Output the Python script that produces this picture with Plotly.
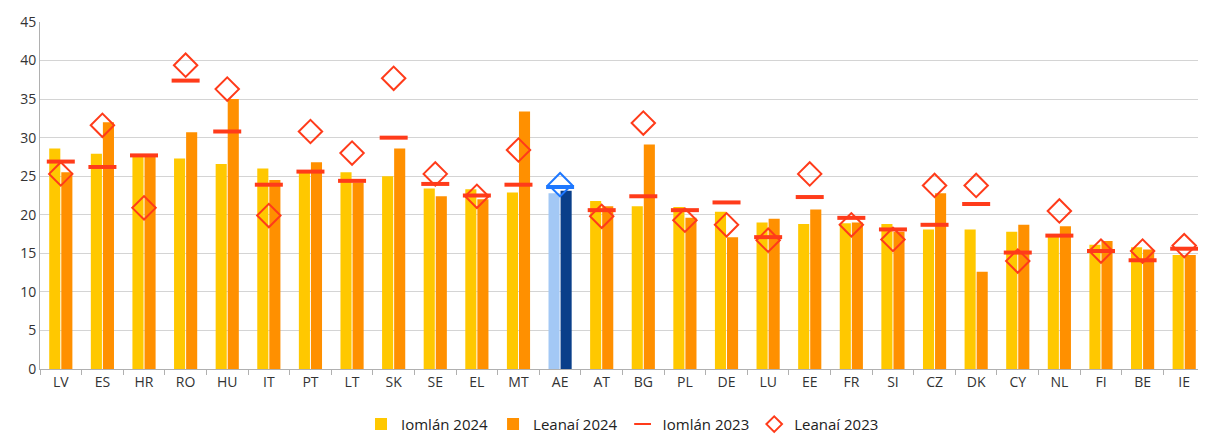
import plotly.graph_objects as go

categories = ["LV", "ES", "HR", "RO", "HU", "IT", "PT", "LT", "SK", "SE", "EL", "MT", "AE", "AT",
              "BG", "PL", "DE", "LU", "EE", "FR", "SI", "CZ", "DK", "CY", "NL", "FI", "BE", "IE"]
iomlan_2024 = [28.6, 27.9, 27.6, 27.3, 26.6, 26.0, 25.6, 25.5, 25.0, 23.4, 23.3, 22.9, 22.8, 21.8,
               21.1, 21.0, 20.4, 19.0, 18.8, 18.9, 18.8, 18.1, 18.1, 17.8, 17.2, 16.1, 15.8, 14.8]
leanai_2024 = [25.5, 32.0, 27.8, 30.7, 35.0, 24.5, 26.8, 24.2, 28.6, 22.4, 22.0, 33.4, 23.1, 21.1,
               29.1, 19.6, 17.1, 19.5, 20.7, 19.0, 17.8, 22.8, 12.6, 18.7, 18.5, 16.6, 15.5, 14.8]
iomlan_2023 = [26.9, 26.2, 27.7, 37.4, 30.8, 23.9, 25.6, 24.4, 30.0, 24.0, 22.5, 23.9, 23.6, 20.6,
               22.4, 20.6, 21.6, 17.1, 22.3, 19.6, 18.1, 18.7, 21.4, 15.1, 17.3, 15.3, 14.1, 15.6]
leanai_2023 = [25.3, 31.6, 20.9, 39.4, 36.3, 19.9, 30.8, 28.0, 37.7, 25.3, 22.4, 28.4, 23.9, 19.8,
               31.9, 19.3, 18.7, 16.7, 25.3, 18.7, 16.8, 23.8, 23.8, 14.0, 20.5, 15.3, 15.3, 16.0]
y_ticks = [0, 5, 10, 15, 20, 25, 30, 35, 40, 45]

YELLOW = "#FFC800"
ORANGE = "#FF9000"
RED = "#FF3B1A"
AE_LIGHT = "#A3C8F5"
AE_DARK = "#0A3F8A"
AE_MARK = "#1E78FF"

def colors(base, ae):
    return [ae if c == "AE" else base for c in categories]

fig = go.Figure()
fig.add_trace(go.Bar(name="Iomlán 2024", x=categories, y=iomlan_2024,
                     marker=dict(color=colors(YELLOW, AE_LIGHT), line=dict(width=0))))
fig.add_trace(go.Bar(name="Leanaí 2024", x=categories, y=leanai_2024,
                     marker=dict(color=colors(ORANGE, AE_DARK), line=dict(width=0))))
fig.add_trace(go.Scatter(name="Iomlán 2023", x=categories, y=iomlan_2023, mode="markers",
                         marker=dict(symbol="line-ew", size=20,
                                     color=colors(RED, AE_MARK),
                                     line=dict(width=4, color=colors(RED, AE_MARK)))))
fig.add_trace(go.Scatter(name="Leanaí 2023", x=categories, y=leanai_2023, mode="markers",
                         marker=dict(symbol="diamond-open", size=18,
                                     color=colors(RED, AE_MARK),
                                     line=dict(width=2))))

fig.update_layout(
    width=1198, height=426,
    margin=dict(l=32, r=1, t=14, b=65, autoexpand=False),
    paper_bgcolor="white", plot_bgcolor="white",
    barmode="group", bargap=0.42, bargroupgap=0.08,
    font=dict(family="Open Sans, Liberation Sans, sans-serif", size=13, color="#333333"),
    showlegend=True,
    legend=dict(orientation="h", x=0.5, xanchor="center", y=-0.112, yanchor="top",
                font=dict(size=15, color="#222222"), itemsizing="constant",
                itemwidth=30, tracegroupgap=0),
)
fig.update_xaxes(type="category", range=[-0.5, len(categories) - 0.5],
                 showline=True, linecolor="#b0b0b0", linewidth=1,
                 ticks="outside", tickson="boundaries", ticklen=5, tickcolor="#b0b0b0",
                 showgrid=False, tickfont=dict(size=14, color="#333333"))
fig.update_yaxes(range=[0, 45], tickvals=y_ticks, showline=True, linecolor="#b0b0b0",
                 showgrid=True, gridcolor="#d4d4d4", gridwidth=1,
                 ticks="", zeroline=False, tickfont=dict(size=14, color="#333333"))

fig.write_html("out.html")
